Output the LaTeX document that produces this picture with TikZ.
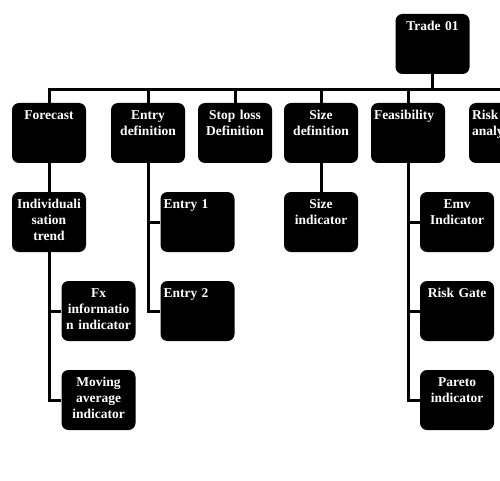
\documentclass[tikz,border=0pt]{standalone}
\usepackage{fontspec}
\setmainfont{Liberation Serif}

\begin{document}
\begin{tikzpicture}[
  x=1pt, y=-1pt,
  blk/.style={fill=black, text=white, rounded corners=7pt,
              minimum width=74pt, text width=68pt,
              inner xsep=3pt, inner ysep=0pt,
              text height=16.5pt, text depth=43.5pt, align=center,
              font=\fontsize{13.5}{16}\selectfont\bfseries},
  lft/.style={blk, align=left},
  wire/.style={draw=black, line width=3pt, line join=miter},
]
  \fill[white] (0,0) rectangle (500,481);
  \useasboundingbox (0,0) rectangle (500,481);
  \clip (0,0) rectangle (500,481);

  % --- root ------------------------------------------------------
  \node[blk] (tr) at (432.5,44) {Trade 01};

  % --- first level -----------------------------------------------
  \node[blk] (fc) at (49,133)  {Forecast};
  \node[blk] (ed) at (148,133) {Entry\\definition};
  \node[blk] (sl) at (235,133) {Stop loss\\Definition};
  \node[blk] (sd) at (321,133) {Size\\definition};
  \node[lft] (fe) at (408,133) {Feasibility};
  \node[lft] (ra) at (506,133) {Risk\\analysis};

  \foreach \n in {fc,ed,sl,sd,fe,ra}
    \draw[wire] (tr.south) -- ++(0,15) -| (\n.north);

  % --- forecast branch -------------------------------------------
  \node[blk] (ind) at (49,222)   {Individuali\\sation\\trend};
  \node[blk] (fx)  at (98.5,311) {Fx\\informatio\\n indicator};
  \node[blk] (ma)  at (98.5,400) {Moving\\average\\indicator};
  \draw[wire] (fc) -- (ind);
  \foreach \n in {fx,ma}
    \draw[wire] (ind.south) |- (\n.west);

  % --- entry branch ----------------------------------------------
  \node[lft] (e1) at (197.5,222) {Entry 1};
  \node[lft] (e2) at (197.5,311) {Entry 2};
  \foreach \n in {e1,e2}
    \draw[wire] (ed.south) |- (\n.west);

  % --- size branch -----------------------------------------------
  \node[blk] (si) at (321,222) {Size\\indicator};
  \draw[wire] (sd) -- (si);

  % --- feasibility branch ----------------------------------------
  \node[blk] (emv) at (457,222) {Emv\\Indicator};
  \node[blk] (rg)  at (457,311) {Risk Gate};
  \node[blk] (pa)  at (457,400) {Pareto\\indicator};
  \foreach \n in {emv,rg,pa}
    \draw[wire] (fe.south) |- (\n.west);
\end{tikzpicture}
\end{document}
